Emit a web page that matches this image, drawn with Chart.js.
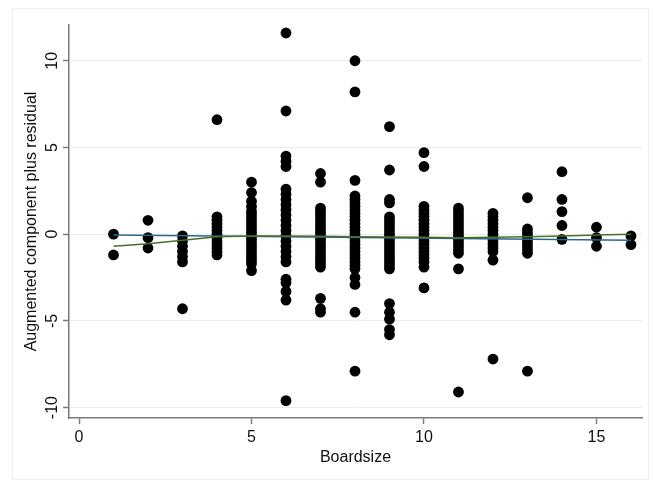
<!DOCTYPE html>
<html>
<head>
<meta charset="utf-8">
<script src="https://cdn.jsdelivr.net/npm/chart.js@4"></script>
<style>
  html, body { margin: 0; padding: 0; background: #fff; }
  #wrap { width: 653px; height: 487px; }
</style>
</head>
<body>
<div id="wrap"><canvas id="chart" width="653" height="487"></canvas></div>
<script>
// Boardsize categories and residuals (one list per boardsize)
const boardsize = [1, 2, 3, 4, 5, 6, 7, 8, 9, 10, 11, 12, 13, 14, 15, 16];
const residuals = [
    [0, -1.2],
    [0.8, -0.2, -0.8],
    [-0.1, -0.4, -0.7, -1.0, -1.3, -1.6, -4.3],
    [6.6, 1.0, 0.8, 0.6, 0.4, 0.2, 0, -0.2, -0.4, -0.6, -0.8, -1.0, -1.2],
    [3.0, 2.4, 1.9, 1.6, 1.3, 1.1, 0.9, 0.7, 0.5, 0.3, 0.1, -0.1, -0.3, -0.5, -0.7, -0.9, -1.1, -1.3, -1.5, -1.7, -2.1],
    [11.6, 7.1, 4.5, 4.2, 3.9, 2.6, 2.3, 2.0, 1.7, 1.4, 1.1, 0.8, 0.5, 0.2, -0.1, -0.4, -0.7, -1.0, -1.3, -1.6, -2.6, -2.8, -3.3, -3.8, -9.6],
    [3.5, 3.0, 1.5, 1.3, 1.1, 0.9, 0.7, 0.5, 0.3, 0.1, -0.1, -0.3, -0.5, -0.7, -0.9, -1.1, -1.3, -1.5, -1.7, -1.9, -3.7, -4.3, -4.5],
    [10.0, 8.2, 3.1, 2.2, 2.0, 1.8, 1.6, 1.4, 1.2, 1.0, 0.8, 0.6, 0.4, 0.2, 0, -0.2, -0.4, -0.6, -0.8, -1.0, -1.2, -1.4, -1.6, -1.8, -2.0, -2.5, -2.9, -4.5, -7.9],
    [6.2, 3.7, 2.0, 1.8, 1.0, 0.8, 0.6, 0.4, 0.2, 0, -0.2, -0.4, -0.6, -0.8, -1.0, -1.2, -1.4, -1.6, -1.8, -2.0, -4.0, -4.5, -4.9, -5.5, -5.8],
    [4.7, 3.9, 1.6, 1.4, 1.2, 1.0, 0.8, 0.6, 0.4, 0.2, 0, -0.2, -0.4, -0.6, -0.8, -1.0, -1.2, -1.4, -1.6, -1.9, -3.1],
    [1.5, 1.3, 1.1, 0.9, 0.7, 0.5, 0.3, 0.1, -0.1, -0.3, -0.5, -0.7, -0.9, -1.1, -2.0, -9.1],
    [1.2, 1.0, 0.8, 0.6, 0.4, 0.2, 0, -0.2, -0.4, -0.6, -0.8, -1.0, -1.5, -7.2],
    [2.1, 0.3, 0.1, -0.1, -0.3, -0.5, -0.7, -0.9, -1.1, -7.9],
    [3.6, 2.0, 1.3, 0.5, -0.3],
    [0.4, -0.2, -0.7],
    [-0.1, -0.6]
];

// Component (linear fit) line, endpoints
const componentX = [1, 16];
const componentY = [-0.05, -0.35];

// Lowess smooth
const lowessY = [-0.7, -0.55, -0.35, -0.15, -0.1, -0.1, -0.12, -0.15, -0.17, -0.18, -0.2, -0.18, -0.15, -0.1, -0.05, 0.0];

const yTicks = [-10, -5, 0, 5, 10];
const xTicks = [0, 5, 10, 15];

const FONT = 'Liberation Sans, Arial, Helvetica, sans-serif';
const AXIS = '#7a7a7a';

// Flatten points for the scatter dataset
const points = [];
boardsize.forEach((b, i) => {
    residuals[i].forEach(v => points.push({ x: b, y: v }));
});

const frame = {
    id: 'frame',
    beforeDraw(chart) {
        const ctx = chart.ctx;
        ctx.save();
        ctx.fillStyle = '#fff';
        ctx.fillRect(0, 0, chart.width, chart.height);
        ctx.strokeStyle = '#eeeeee';
        ctx.lineWidth = 1;
        ctx.strokeRect(12.5, 8.5, 636, 471);
        ctx.restore();
    }
};

const ctx = document.getElementById('chart');
new Chart(ctx, {
    type: 'scatter',
    data: {
        datasets: [
            {
                label: 'Lowess',
                data: boardsize.map((b, i) => ({ x: b, y: lowessY[i] })),
                showLine: true,
                borderColor: '#4d6e2a',
                borderWidth: 1.5,
                pointRadius: 0,
                order: 0
            },
            {
                label: 'Component',
                data: componentX.map((b, i) => ({ x: b, y: componentY[i] })),
                showLine: true,
                borderColor: '#2b6888',
                borderWidth: 1.5,
                pointRadius: 0,
                order: 1
            },
            {
                label: 'Residuals',
                data: points,
                backgroundColor: '#000',
                borderWidth: 0,
                pointRadius: 5.4,
                order: 2
            }
        ]
    },
    options: {
        responsive: false,
        animation: false,
        layout: { padding: { left: 0, top: 25, right: 11, bottom: 0 } },
        plugins: {
            legend: { display: false },
            tooltip: { enabled: false }
        },
        scales: {
            x: {
                type: 'linear',
                min: -0.29,
                max: 16.32,
                afterFit: s => { s.height = 69; },
                afterBuildTicks: s => { s.ticks = xTicks.map(v => ({ value: v })); },
                border: { color: AXIS, width: 1.5 },
                grid: { drawOnChartArea: false, drawTicks: true, tickLength: 6, tickColor: AXIS, tickWidth: 1.5 },
                ticks: { color: '#111', padding: 4, font: { family: FONT, size: 16 } },
                title: {
                    display: true,
                    text: 'Boardsize',
                    color: '#111',
                    font: { family: FONT, size: 16 },
                    padding: { top: 0, bottom: 20 }
                }
            },
            y: {
                type: 'linear',
                min: -10.6,
                max: 12.06,
                afterFit: s => { s.width = 69; },
                afterBuildTicks: s => { s.ticks = yTicks.map(v => ({ value: v })); },
                border: { color: AXIS, width: 1.5 },
                grid: { color: '#ececec', lineWidth: 1, drawTicks: true, tickLength: 6, tickColor: AXIS, tickWidth: 1.5 },
                ticks: {
                    color: '#111',
                    minRotation: 90,
                    maxRotation: 90,
                    crossAlign: 'center',
                    padding: -1,
                    font: { family: FONT, size: 16 }
                },
                title: {
                    display: true,
                    text: 'Augmented component plus residual',
                    color: '#111',
                    font: { family: FONT, size: 16 },
                    padding: { top: 22, bottom: 0 }
                }
            }
        }
    },
    plugins: [frame]
});
</script>
</body>
</html>
